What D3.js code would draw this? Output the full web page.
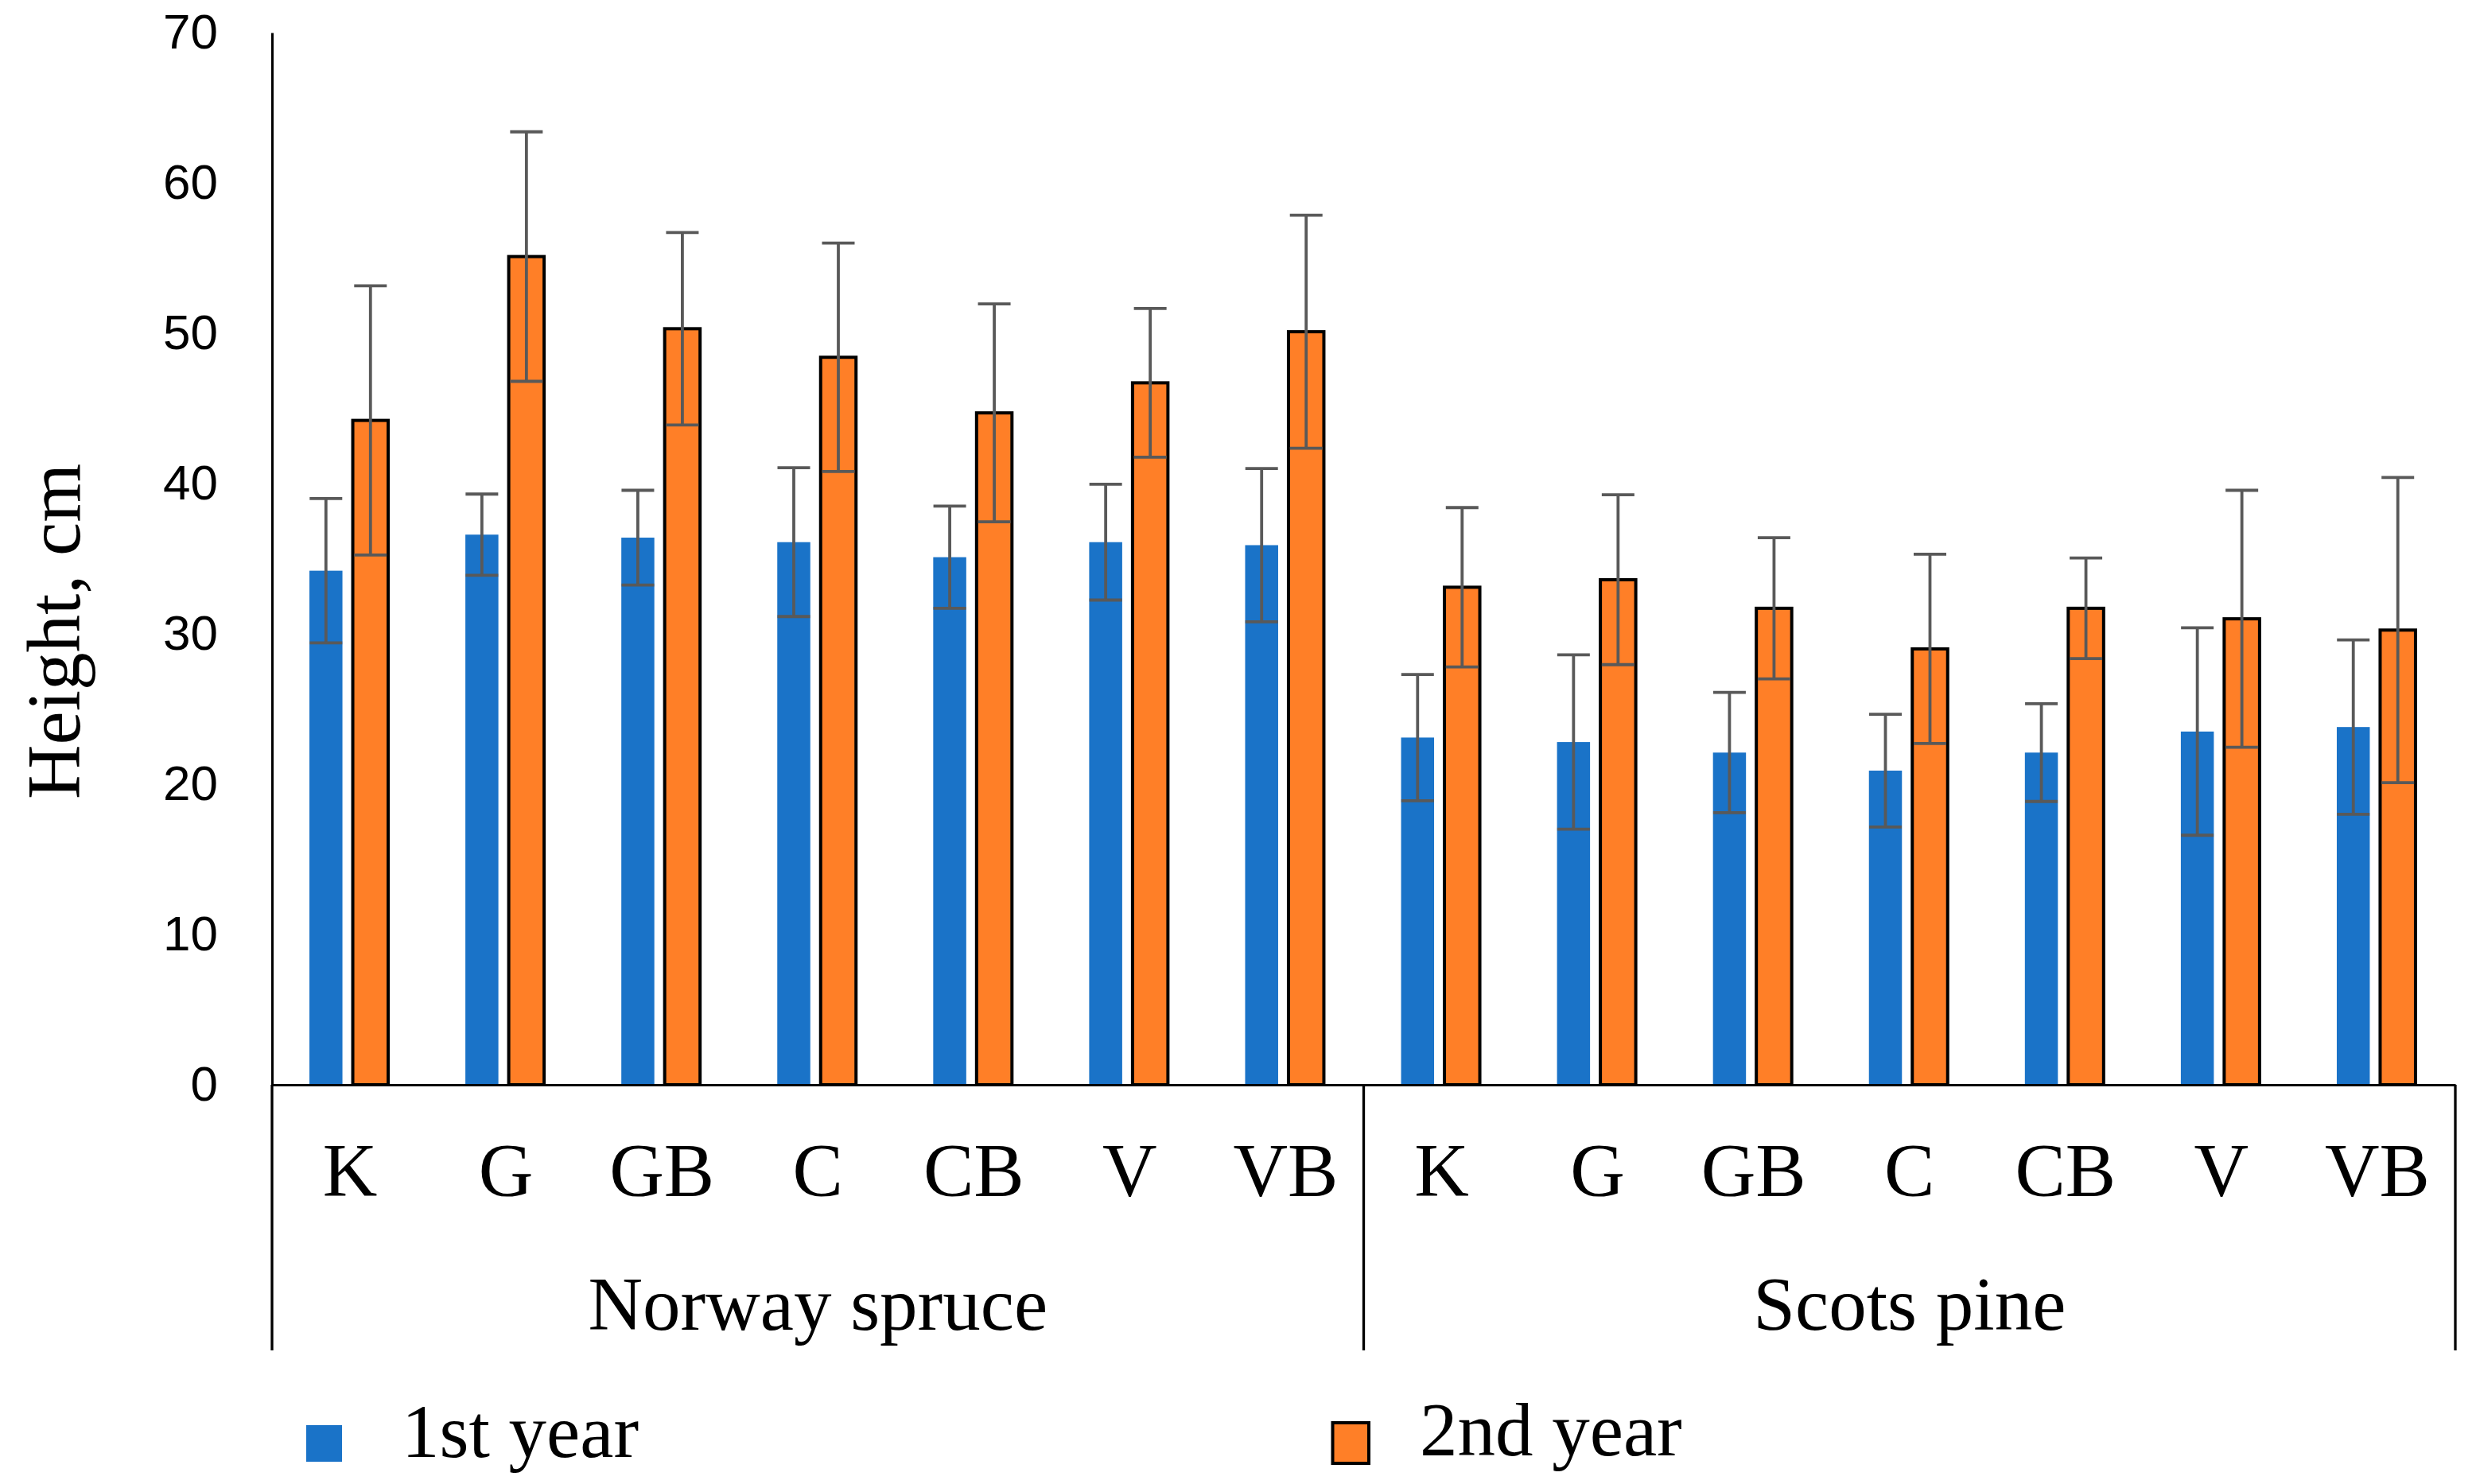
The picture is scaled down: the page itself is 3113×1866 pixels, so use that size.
<!DOCTYPE html>
<html>
<head>
<meta charset="utf-8">
<script src="https://cdn.jsdelivr.net/npm/d3@7"></script>
<style>
  body { margin: 0; background: #fff; }
  svg { display: block; }
</style>
</head>
<body>
<svg id="chart"></svg>
<script>
// treatments within each species
const treatments = ["K", "G", "GB", "C", "CB", "V", "VB"];
const species = ["Norway spruce", "Scots pine"];
const seriesNames = ["1st year", "2nd year"];
const yTicks = [0, 10, 20, 30, 40, 50, 60, 70];

// mean height, cm (spruce K..VB, then pine K..VB)
const year1Mean = [34.2, 36.6, 36.4, 36.1, 35.1, 36.1, 35.9, 23.1, 22.8, 22.1, 20.9, 22.1, 23.5, 23.8];
const year1Sd = [4.8, 2.7, 3.15, 4.95, 3.4, 3.85, 5.1, 4.2, 5.8, 4.0, 3.75, 3.25, 6.9, 5.8];
const year2Mean = [44.2, 55.1, 50.3, 48.4, 44.7, 46.7, 50.1, 33.1, 33.6, 31.7, 29.0, 31.7, 31.0, 30.25];
const year2Sd = [8.95, 8.3, 6.4, 7.6, 7.25, 4.95, 7.75, 5.3, 5.65, 4.7, 6.3, 3.35, 8.55, 10.15];

const width = 3113, height = 1866;
const x0 = 342, x1 = 3087, yBase = 1364, yTop = 41;
const blue = "#1a73c8", orange = "#ff7f27", errColor = "#595959";
const serif = "'Liberation Serif', 'Times New Roman', serif";

const keys = [];
species.forEach(s => treatments.forEach(t => keys.push(s + "|" + t)));

const rows = keys.map((k, i) => ({
  key: k,
  values: [
    { s: 0, mean: year1Mean[i], sd: year1Sd[i] },
    { s: 1, mean: year2Mean[i], sd: year2Sd[i] }
  ]
}));

const svg = d3.select("#chart").attr("width", width).attr("height", height);
svg.append("rect").attr("width", width).attr("height", height).attr("fill", "#fff");

const x = d3.scaleBand().domain(keys).range([x0, x1]);
const xs = d3.scaleBand().domain([0, 1]).range([-52, 48]).paddingInner(0.23);
const y = d3.scaleLinear().domain([0, 70]).range([yBase, yTop]);

// y axis
const yAxis = svg.append("g").attr("transform", `translate(${x0},0)`)
  .call(d3.axisLeft(y).tickValues(yTicks).tickSize(0).tickPadding(68));
yAxis.select(".domain").attr("stroke", "#000").attr("stroke-width", 3);
yAxis.selectAll("text").style("font-family", "'Liberation Sans', Arial, sans-serif")
  .style("font-size", "62px").attr("fill", "#000");

svg.append("text")
  .attr("transform", `translate(100,794) rotate(-90)`)
  .attr("text-anchor", "middle")
  .style("font-family", serif).style("font-size", "95px")
  .text("Height, cm");

// bars
const groups = svg.append("g").selectAll("g").data(rows).join("g")
  .attr("transform", d => `translate(${x(d.key) + x.bandwidth() / 2},0)`);

groups.selectAll("rect").data(d => d.values).join("rect")
  .attr("x", d => d.s === 0 ? xs(d.s) + 1 : xs(d.s) - 1)
  .attr("width", d => d.s === 0 ? xs.bandwidth() - 2 : xs.bandwidth() + 1)
  .attr("y", d => y(d.mean))
  .attr("height", d => yBase - y(d.mean))
  .attr("fill", d => d.s === 0 ? blue : orange)
  .attr("stroke", d => d.s === 0 ? "none" : "#000")
  .attr("stroke-width", 4);

// error bars
const err = groups.selectAll("g.err").data(d => d.values).join("g").attr("class", "err")
  .attr("stroke", errColor).attr("stroke-width", 3.8);
const cx = d => d.s === 0 ? xs(d.s) + xs.bandwidth() / 2 : xs(d.s) + xs.bandwidth() / 2 - 0.5;
err.append("line")
  .attr("x1", cx).attr("x2", cx)
  .attr("y1", d => y(d.mean + d.sd)).attr("y2", d => y(d.mean - d.sd));
err.selectAll("line.cap").data(d => [
    { d, v: d.mean + d.sd }, { d, v: d.mean - d.sd }
  ]).join("line").attr("class", "cap")
  .attr("x1", c => cx(c.d) - 20.5).attr("x2", c => cx(c.d) + 20.5)
  .attr("y1", c => y(c.v)).attr("y2", c => y(c.v));

// x axis
const xAxis = svg.append("g").attr("transform", `translate(0,${yBase})`)
  .call(d3.axisBottom(x).tickSize(0).tickPadding(140).tickFormat(k => k.split("|")[1]));
xAxis.select(".domain").attr("stroke", "#000").attr("stroke-width", 3.2);
xAxis.selectAll("text").attr("dy", null)
  .style("font-family", serif).style("font-size", "95px").attr("fill", "#000");

// species separators and labels
const sepX = [x0, x(keys[7]), x1];
svg.append("g").selectAll("line").data(sepX).join("line")
  .attr("x1", d => d).attr("x2", d => d)
  .attr("y1", yBase).attr("y2", 1698)
  .attr("stroke", "#000").attr("stroke-width", 3.3);

svg.append("g").selectAll("text").data(species).join("text")
  .attr("x", (s, i) => (sepX[i] + sepX[i + 1]) / 2)
  .attr("y", 1672)
  .attr("text-anchor", "middle")
  .style("font-family", serif).style("font-size", "95px")
  .text(d => d);

// legend
const legend = svg.append("g");
legend.append("rect").attr("x", 385).attr("y", 1792).attr("width", 45).attr("height", 46).attr("fill", blue);
legend.append("text").attr("x", 505).attr("y", 1832)
  .style("font-family", serif).style("font-size", "95px").text(seriesNames[0]);
legend.append("rect").attr("x", 1675.5).attr("y", 1789).attr("width", 45.5).attr("height", 51)
  .attr("fill", orange).attr("stroke", "#000").attr("stroke-width", 4);
legend.append("text").attr("x", 1785).attr("y", 1830)
  .style("font-family", serif).style("font-size", "95px").text(seriesNames[1]);
</script>
</body>
</html>
